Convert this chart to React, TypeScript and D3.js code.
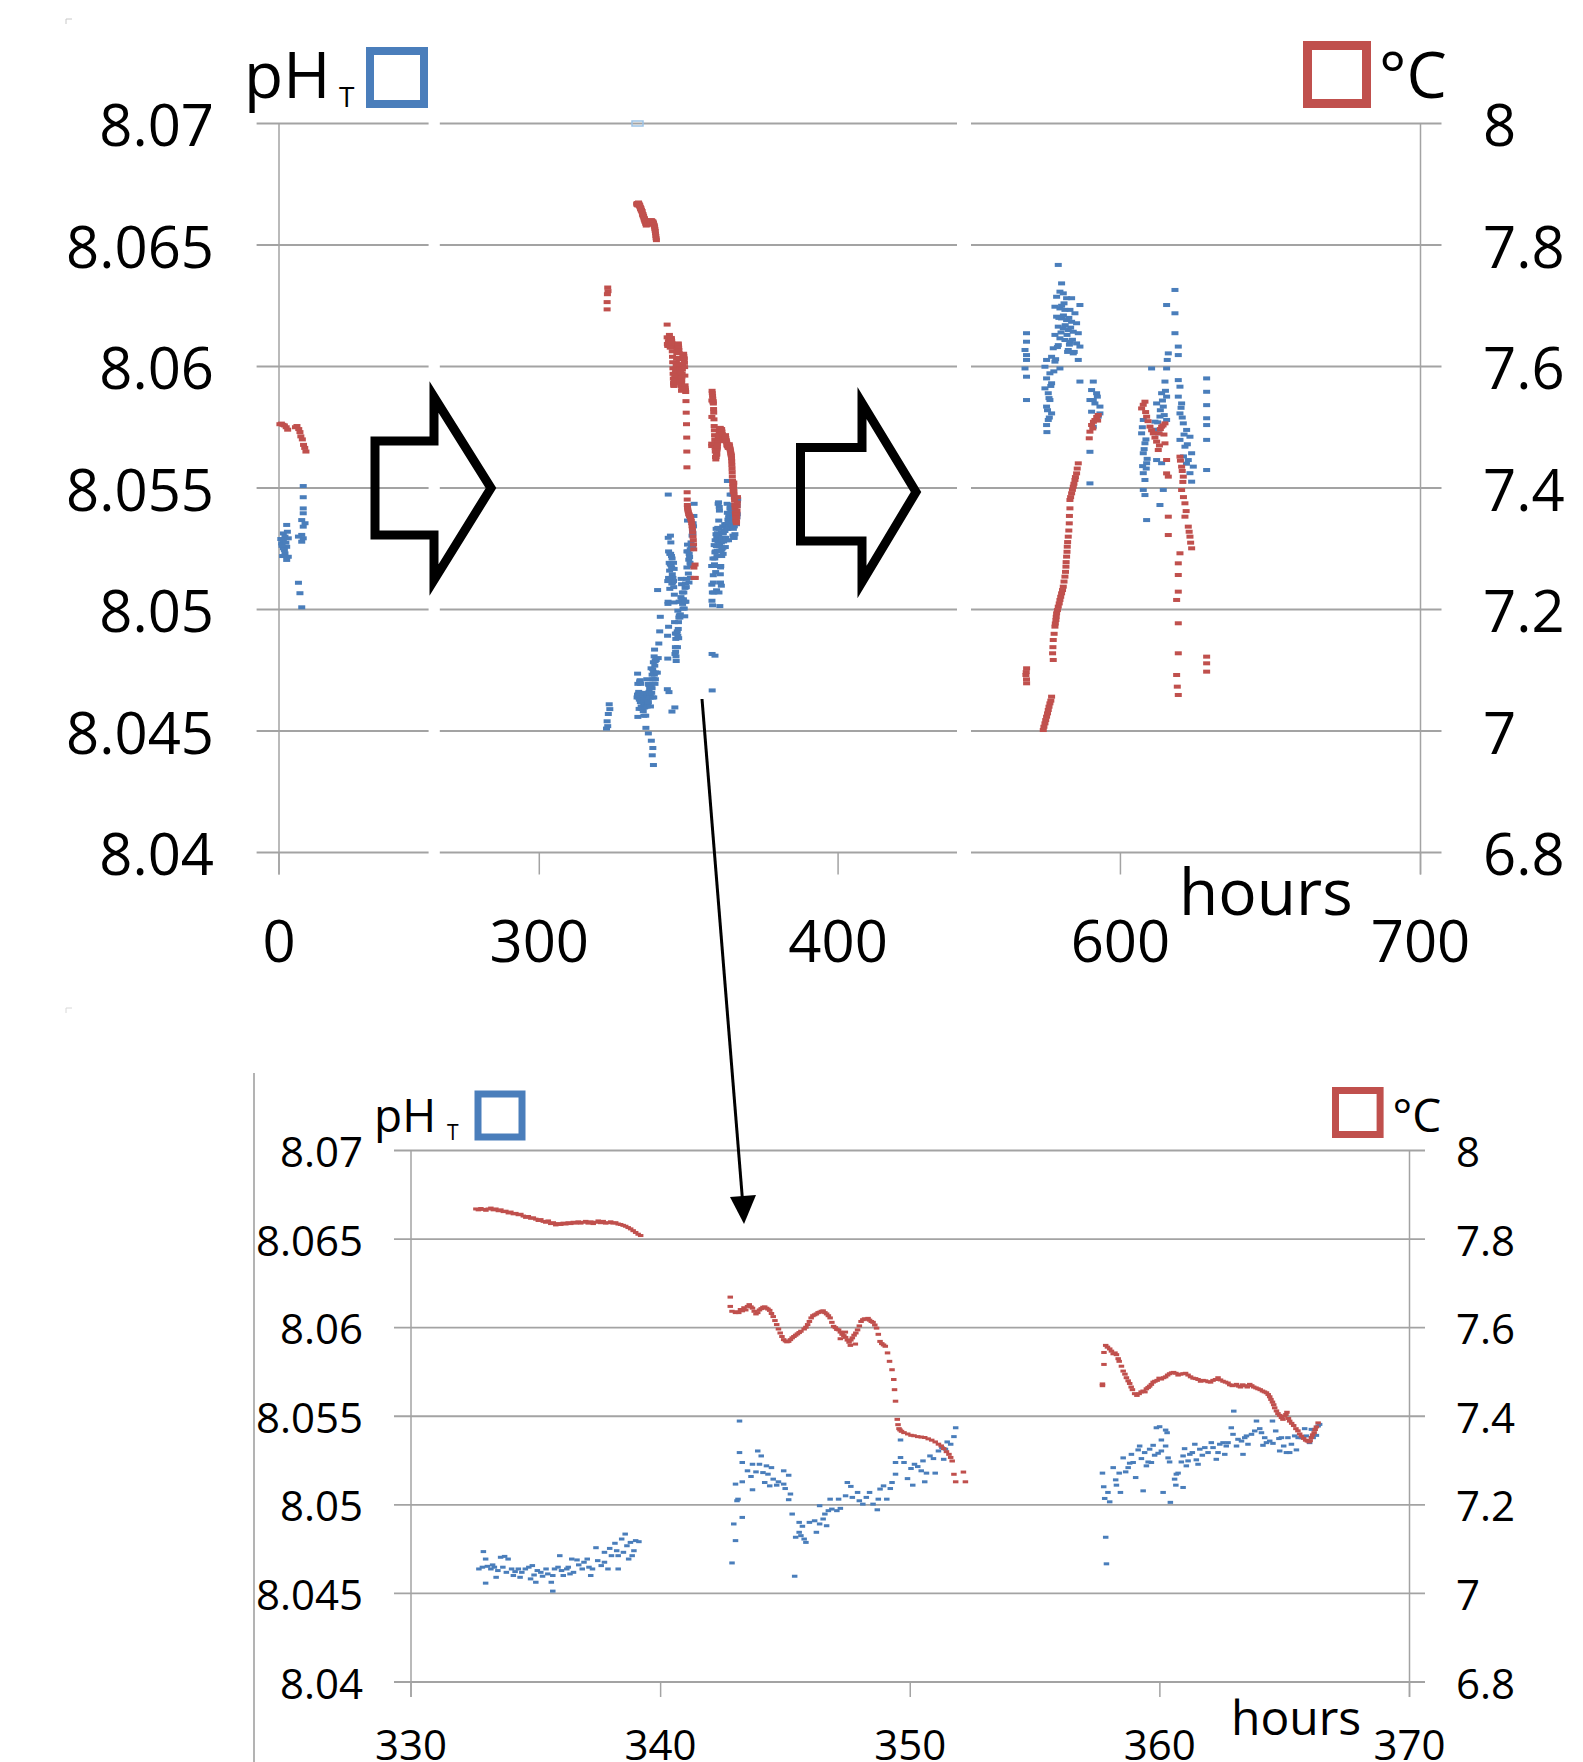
import React from "react";
import * as d3 from "d3";

type Pt = [number, number]; // [hours, value]

// ---- overview, first stretch (0-9 h) ----
const phStart: Pt[] = [
  [8.1, 8.05508], [8.1, 8.05462], [8.1, 8.05416], [8.1, 8.05396], [7.6, 8.05368], [8.7, 8.05355],
  [8.1, 8.05341], [2.57, 8.05348], [1.45, 8.05313], [2.0, 8.053], [3.1, 8.05293], [0.9, 8.05272],
  [2.57, 8.05258], [2.0, 8.05231], [3.1, 8.05217], [2.57, 8.05204], [7.6, 8.05307], [8.1, 8.05293],
  [7.6, 8.05279], [6.5, 8.0511], [7.0, 8.05067], [7.6, 8.05009], [1.45, 8.05286], [1.45, 8.05252],
  [6.5, 8.053], [0.6, 8.0529], [1.0, 8.05262], [1.8, 8.05245], [2.3, 8.05275], [2.8, 8.0532], [1.2, 8.0522],
];
const tempStart: Pt[] = [
  [0.3, 7.505], [0.8, 7.506], [1.3, 7.504], [1.8, 7.503], [2.4, 7.5], [2.9, 7.496], [5.5, 7.5],
  [6.0, 7.502], [6.6, 7.497], [7.0, 7.492], [7.3, 7.485], [7.8, 7.48], [8.2, 7.471], [8.6, 7.466], [9.0, 7.46],
];

// ---- 332-367 h, shown in both panels ----
const phMid: Pt[] = [
  [332.9, 8.04736], [332.99, 8.04694], [332.72, 8.04638], [332.86, 8.04648], [333.06, 8.04653], [333.2, 8.04638],
  [333.34, 8.04648], [333.27, 8.04661], [333.48, 8.04629], [332.99, 8.04558], [333.41, 8.04591], [333.59, 8.04704],
  [333.75, 8.04709], [333.68, 8.04648], [333.89, 8.04694], [333.82, 8.04619], [334.03, 8.04638], [334.1, 8.04601],
  [334.17, 8.04623], [334.3, 8.04638], [334.37, 8.04591], [334.44, 8.04619], [334.58, 8.04638], [334.72, 8.04648],
  [334.86, 8.04657], [334.79, 8.04582], [334.93, 8.04604], [335.0, 8.04563], [335.06, 8.04629], [335.2, 8.04619],
  [335.27, 8.04597], [335.41, 8.04638], [335.48, 8.0461], [335.62, 8.04563], [335.68, 8.04601], [335.75, 8.04638],
  [335.89, 8.04648], [335.96, 8.04713], [336.03, 8.04629], [336.1, 8.04601], [336.24, 8.04638], [336.3, 8.04648],
  [336.37, 8.0461], [336.44, 8.04694], [336.51, 8.04619], [336.65, 8.04689], [336.72, 8.04661], [336.86, 8.04638],
  [336.93, 8.04676], [337.06, 8.04694], [337.13, 8.04648], [337.2, 8.04601], [337.27, 8.04638], [337.41, 8.04758],
  [337.48, 8.04685], [337.62, 8.04657], [337.75, 8.04676], [337.75, 8.04732], [337.89, 8.04638], [337.96, 8.04754],
  [338.03, 8.04713], [338.17, 8.04783], [338.24, 8.04741], [338.3, 8.04713], [338.3, 8.04638], [338.44, 8.04807],
  [338.51, 8.04732], [338.58, 8.04835], [338.65, 8.04769], [338.72, 8.04694], [338.79, 8.04788], [338.86, 8.04713],
  [338.93, 8.04741], [339.0, 8.04798], [339.13, 8.04792], [335.68, 8.04513],
  [343.16, 8.05473], [343.16, 8.05295], [343.89, 8.05304], [344.03, 8.05276], [343.27, 8.05239], [343.68, 8.05229],
  [343.96, 8.05229], [344.24, 8.0522], [344.44, 8.0521], [343.48, 8.05192], [343.82, 8.05186], [344.1, 8.05182],
  [344.3, 8.05173], [344.93, 8.05192], [345.13, 8.05167], [343.62, 8.0516], [344.17, 8.05126], [344.51, 8.05145],
  [344.72, 8.0513], [344.93, 8.05117], [344.37, 8.05107], [344.65, 8.05111], [343.0, 8.05117], [343.27, 8.0513],
  [343.68, 8.05085], [344.99, 8.05092], [345.2, 8.05061], [345.13, 8.05029], [343.1, 8.05032], [343.06, 8.05023],
  [343.27, 8.04929], [342.93, 8.04892], [343.0, 8.04798], [342.86, 8.04672], [345.37, 8.04597], [345.27, 8.04948],
  [345.55, 8.04901], [345.68, 8.04879], [345.55, 8.04845], [345.41, 8.04817], [345.62, 8.04826], [345.75, 8.04807],
  [345.82, 8.04788], [345.96, 8.04901], [346.17, 8.0491], [346.24, 8.04845], [346.37, 8.04892], [346.51, 8.0492],
  [346.58, 8.04948], [346.65, 8.04882], [346.37, 8.04995], [346.72, 8.04967], [346.86, 8.04976], [347.06, 8.04967],
  [347.2, 8.0498], [346.79, 8.05032], [347.13, 8.05032], [347.41, 8.05051], [347.48, 8.05126], [347.62, 8.05104],
  [347.68, 8.05042], [347.89, 8.0507], [347.96, 8.05023], [348.1, 8.05004], [348.24, 8.05042], [348.37, 8.0507],
  [348.51, 8.05004], [348.68, 8.04972], [348.72, 8.05032], [348.79, 8.05089], [348.93, 8.05107], [349.06, 8.05032],
  [349.2, 8.05092], [349.27, 8.05126], [349.41, 8.05173], [349.41, 8.05239], [349.61, 8.05267], [349.75, 8.05239],
  [349.89, 8.05148], [350.03, 8.05205], [350.1, 8.05111], [350.17, 8.05229], [350.3, 8.05216], [350.44, 8.05192],
  [350.51, 8.05248], [350.58, 8.0513], [350.65, 8.05179], [350.79, 8.05276], [350.93, 8.05261], [351.0, 8.05179],
  [351.13, 8.05304], [351.27, 8.05323], [351.34, 8.05257], [351.48, 8.05355], [351.62, 8.05342], [351.75, 8.05385],
  [351.82, 8.05435], [349.61, 8.05366], [351.41, 8.05314],
  [357.83, 8.04817], [357.86, 8.04667], [357.7, 8.05179], [357.75, 8.05102], [357.92, 8.0507], [357.79, 8.05036],
  [357.99, 8.05017], [358.13, 8.0521], [358.26, 8.05111], [358.37, 8.05179], [358.42, 8.0507], [358.23, 8.05141],
  [358.53, 8.05265], [358.63, 8.05186], [358.73, 8.0521], [358.79, 8.05235], [358.93, 8.05239], [359.03, 8.05154],
  [358.86, 8.05285], [359.13, 8.0531], [359.19, 8.05332], [359.26, 8.05261], [359.33, 8.05079], [359.39, 8.05295],
  [359.46, 8.0522], [359.53, 8.05242], [359.59, 8.05314], [359.66, 8.05239], [359.73, 8.05336], [359.79, 8.0528],
  [359.86, 8.05435], [359.93, 8.05291], [359.99, 8.05441], [360.06, 8.05366], [360.06, 8.05304], [360.13, 8.0507],
  [360.23, 8.05422], [360.29, 8.05407], [360.23, 8.05332], [360.33, 8.05265], [360.39, 8.05242], [360.42, 8.05014],
  [360.59, 8.05145], [360.66, 8.05173], [360.73, 8.05179], [360.64, 8.05111], [360.93, 8.05098], [360.86, 8.05242],
  [360.93, 8.05276], [360.99, 8.05317], [361.06, 8.0522], [361.13, 8.05248], [361.2, 8.05285], [361.3, 8.05295],
  [361.4, 8.05342], [361.46, 8.05254], [361.53, 8.05229], [361.6, 8.05314], [361.7, 8.0528], [361.8, 8.05323],
  [361.93, 8.05295], [362.06, 8.05351], [362.13, 8.05323], [362.26, 8.05257], [362.33, 8.05295], [362.4, 8.05342],
  [362.53, 8.05351], [362.6, 8.05285], [362.66, 8.05332], [362.73, 8.05351], [362.86, 8.05435], [362.93, 8.05398],
  [362.96, 8.05529], [363.07, 8.05332], [363.13, 8.0537], [363.27, 8.0536], [363.33, 8.05285], [363.4, 8.05379],
  [363.47, 8.05389], [363.53, 8.05342], [363.67, 8.05398], [363.8, 8.05417], [363.87, 8.05473], [364.0, 8.0543],
  [364.07, 8.05407], [364.13, 8.05336], [364.2, 8.05379], [364.27, 8.05351], [364.4, 8.0536], [364.51, 8.05473],
  [364.53, 8.05347], [364.64, 8.05417], [364.77, 8.05374], [364.8, 8.05304], [364.87, 8.05379], [364.96, 8.05332],
  [365.07, 8.05295], [365.13, 8.05379], [365.2, 8.05295], [365.27, 8.05342], [365.4, 8.05389], [365.47, 8.0531],
  [365.54, 8.05379], [365.67, 8.05379], [365.8, 8.0543], [365.87, 8.05389], [366.0, 8.05351], [366.07, 8.05426],
  [366.14, 8.05379], [366.27, 8.05392], [366.34, 8.05445], [366.2, 8.05426], [366.4, 8.05454],
];
const tempMid: Pt[] = [
  [332.6, 7.868], [332.7, 7.866], [332.8, 7.869], [332.9, 7.867], [333.0, 7.865], [333.1, 7.868], [333.2, 7.87],
  [333.3, 7.866], [333.4, 7.868], [333.5, 7.864], [333.6, 7.866], [333.7, 7.862], [333.8, 7.863], [333.9, 7.859],
  [334.0, 7.861], [334.1, 7.857], [334.2, 7.858], [334.3, 7.855], [334.4, 7.856], [334.5, 7.852], [334.6, 7.849],
  [334.7, 7.851], [334.8, 7.847], [334.9, 7.848], [335.0, 7.845], [335.1, 7.842], [335.2, 7.844], [335.3, 7.84],
  [335.4, 7.838], [335.5, 7.841], [335.6, 7.835], [335.7, 7.837], [335.8, 7.832], [335.9, 7.835], [336.0, 7.833],
  [336.1, 7.836], [336.2, 7.834], [336.3, 7.837], [336.4, 7.835], [336.5, 7.838], [336.6, 7.836], [336.7, 7.839],
  [336.8, 7.836], [336.9, 7.838], [337.0, 7.84], [337.1, 7.836], [337.2, 7.839], [337.3, 7.835], [337.4, 7.838],
  [337.5, 7.841], [337.6, 7.837], [337.7, 7.84], [337.8, 7.836], [337.9, 7.837], [338.0, 7.839], [338.1, 7.836],
  [338.2, 7.837], [338.3, 7.834], [338.4, 7.833], [338.5, 7.831], [338.6, 7.829], [338.7, 7.826], [338.8, 7.823],
  [338.9, 7.819], [339.0, 7.815], [339.1, 7.811], [339.2, 7.808],
  [342.79, 7.669], [342.79, 7.648], [342.86, 7.637], [343.0, 7.634], [343.06, 7.636], [343.13, 7.634], [343.2, 7.641],
  [343.27, 7.638], [343.34, 7.645], [343.41, 7.64], [343.48, 7.648], [343.55, 7.652], [343.62, 7.647], [343.68, 7.644],
  [343.75, 7.637], [343.82, 7.631], [343.89, 7.634], [343.96, 7.64], [344.03, 7.643], [344.1, 7.646], [344.17, 7.647],
  [344.24, 7.644], [344.3, 7.642], [344.37, 7.639], [344.44, 7.632], [344.51, 7.625], [344.58, 7.616], [344.65, 7.607],
  [344.72, 7.597], [344.79, 7.588], [344.86, 7.58], [344.93, 7.573], [345.0, 7.57], [345.06, 7.568], [345.13, 7.569],
  [345.2, 7.573], [345.27, 7.577], [345.34, 7.58], [345.41, 7.583], [345.48, 7.586], [345.55, 7.589], [345.62, 7.592],
  [345.75, 7.597], [345.82, 7.601], [345.89, 7.607], [345.96, 7.614], [346.03, 7.622], [346.1, 7.627], [346.17, 7.629],
  [346.24, 7.631], [346.31, 7.634], [346.37, 7.635], [346.44, 7.637], [346.51, 7.638], [346.58, 7.634], [346.65, 7.631],
  [346.72, 7.627], [346.79, 7.622], [346.86, 7.612], [346.93, 7.603], [347.0, 7.6], [347.06, 7.596], [347.13, 7.595],
  [347.2, 7.59], [347.27, 7.585], [347.34, 7.582], [347.41, 7.578], [347.48, 7.572], [347.55, 7.567], [347.62, 7.572],
  [347.68, 7.577], [347.75, 7.583], [347.82, 7.588], [347.89, 7.595], [347.96, 7.604], [348.03, 7.614], [348.1, 7.618],
  [348.17, 7.62], [348.24, 7.619], [348.31, 7.621], [348.37, 7.617], [348.44, 7.614], [348.51, 7.612], [348.58, 7.606],
  [348.65, 7.599], [348.72, 7.585], [348.79, 7.569], [348.86, 7.564], [348.93, 7.561], [349.0, 7.558], [349.09, 7.543],
  [347.2, 7.575], [347.4, 7.59], [347.6, 7.56], [347.8, 7.563],
  [349.17, 7.524], [349.27, 7.505], [349.34, 7.483], [349.37, 7.46], [349.41, 7.434], [349.48, 7.393], [349.51, 7.381],
  [349.55, 7.372], [349.59, 7.369], [349.65, 7.366], [349.75, 7.363], [349.9, 7.36], [350.03, 7.357], [350.15, 7.356],
  [350.3, 7.354], [350.44, 7.353], [350.58, 7.352], [350.72, 7.349], [350.86, 7.346], [351.0, 7.342], [351.13, 7.337],
  [351.24, 7.333], [351.34, 7.327], [351.45, 7.32], [351.55, 7.314], [351.62, 7.307], [351.68, 7.299], [351.75, 7.269],
  [352.13, 7.274], [351.82, 7.252], [352.21, 7.252],
  [357.7, 7.469], [357.7, 7.473], [357.76, 7.517], [357.76, 7.544], [357.83, 7.56], [357.9, 7.556], [357.99, 7.552],
  [358.06, 7.547], [358.13, 7.541], [358.2, 7.543], [358.26, 7.539], [358.33, 7.53], [358.37, 7.524], [358.46, 7.513],
  [358.53, 7.502], [358.6, 7.495], [358.66, 7.487], [358.73, 7.48], [358.79, 7.474], [358.85, 7.466], [358.9, 7.46],
  [358.99, 7.451], [359.08, 7.447], [359.17, 7.451], [359.25, 7.455], [359.33, 7.457], [359.4, 7.455], [359.46, 7.462],
  [359.53, 7.465], [359.59, 7.468], [359.66, 7.472], [359.73, 7.477], [359.8, 7.479], [359.89, 7.481], [359.97, 7.486],
  [360.06, 7.484], [360.15, 7.487], [360.23, 7.489], [360.31, 7.493], [360.39, 7.496], [360.47, 7.498], [360.55, 7.499],
  [360.64, 7.497], [360.73, 7.493], [360.83, 7.495], [360.93, 7.496], [361.03, 7.497], [361.13, 7.493], [361.23, 7.489],
  [361.33, 7.486], [361.43, 7.485], [361.53, 7.483], [361.63, 7.479], [361.73, 7.481], [361.83, 7.48], [361.93, 7.478],
  [362.03, 7.477], [362.13, 7.481], [362.23, 7.483], [362.33, 7.487], [362.43, 7.482], [362.53, 7.479], [362.63, 7.477],
  [362.73, 7.475], [362.8, 7.471], [362.9, 7.469], [362.98, 7.47], [363.07, 7.472], [363.15, 7.468], [363.23, 7.466],
  [363.32, 7.471], [363.4, 7.469], [363.5, 7.466], [363.6, 7.472], [363.68, 7.469], [363.76, 7.466], [363.85, 7.464],
  [363.93, 7.462], [364.02, 7.46], [364.11, 7.457], [364.19, 7.455], [364.27, 7.453], [364.34, 7.449], [364.4, 7.444],
  [364.45, 7.438], [364.51, 7.432], [364.56, 7.426], [364.6, 7.419], [364.67, 7.412], [364.73, 7.406], [364.8, 7.402],
  [364.87, 7.397], [364.93, 7.393], [365.0, 7.4], [365.05, 7.404], [365.09, 7.409], [365.15, 7.395], [365.2, 7.389],
  [365.28, 7.384], [365.36, 7.379], [365.45, 7.372], [365.53, 7.367], [365.6, 7.36], [365.67, 7.355], [365.76, 7.35],
  [365.84, 7.346], [365.91, 7.344], [365.98, 7.342], [366.02, 7.345], [366.07, 7.352], [366.12, 7.358], [366.18, 7.363],
  [366.22, 7.37], [366.27, 7.376], [366.34, 7.385],
];

// points of the overview only (outside the 330-370 h window or dropped in the detail)
const phMidOverview: Pt[] = [
  [322.5, 8.0451], [322.7, 8.0454], [322.9, 8.0452], [323.1, 8.0457], [323.4, 8.0461], [323.6, 8.0459],
  [336.5, 8.0449], [337.5, 8.0446], [338.0, 8.0443], [337.8, 8.044], [338.2, 8.0436],
  [339.5, 8.0474], [339.8, 8.048], [340.0, 8.0486], [340.3, 8.0491], [340.5, 8.0497], [339.6, 8.0508],
  [343.4, 8.0466], [344.4, 8.0458], [358.8, 8.0481],
];
const tempMidOverview: Pt[] = [
  [322.9, 7.73], [323.0, 7.724], [322.8, 7.719], [322.7, 7.706], [322.7, 7.694],
];

// ---- overview, last stretch (567-629 h) ----
const phEnd: Pt[] = [
  [568.7, 8.06137], [568.7, 8.06102], [568.2, 8.06068], [568.7, 8.06047], [568.7, 8.06027], [568.2, 8.05992],
  [568.7, 8.05958], [568.7, 8.05862],
  [579.28, 8.06418], [580.39, 8.06342], [579.84, 8.06308], [580.95, 8.06301], [578.73, 8.06287], [582.06, 8.06281],
  [583.73, 8.06281], [586.5, 8.06253], [578.17, 8.06246], [579.84, 8.06239], [581.5, 8.06233], [583.17, 8.06233],
  [584.84, 8.06219], [578.73, 8.06205], [580.39, 8.06198], [582.06, 8.06191], [583.73, 8.06184], [585.39, 8.06178],
  [579.28, 8.06164], [580.95, 8.06157], [582.61, 8.0615], [584.28, 8.06143], [585.95, 8.06137], [578.17, 8.0613],
  [579.84, 8.06116], [581.5, 8.06109], [583.17, 8.06102], [585.39, 8.06095], [586.5, 8.06082], [579.28, 8.06088],
  [577.61, 8.06075], [582.61, 8.06068], [584.28, 8.06054], [585.95, 8.06027], [577.06, 8.0604], [575.39, 8.06027],
  [578.17, 8.0602], [579.84, 8.05992], [574.84, 8.05999], [576.5, 8.05972], [575.39, 8.05951], [577.06, 8.05931],
  [574.84, 8.0591], [575.95, 8.0589], [576.5, 8.05862], [575.39, 8.05835], [577.06, 8.05807], [575.95, 8.0578],
  [575.39, 8.05759], [586.5, 8.05938],
  [580.4, 8.0625], [581.0, 8.0621], [581.6, 8.0617], [582.2, 8.0613], [582.8, 8.062], [583.4, 8.0616], [580.2, 8.0614],
  [579.5, 8.062], [581.2, 8.0626], [582.4, 8.0606], [583.0, 8.0609], [584.0, 8.0611], [584.6, 8.0606], [579.0, 8.0608],
  [578.4, 8.0603], [577.8, 8.0598], [576.8, 8.0592], [576.2, 8.0587], [575.7, 8.0582], [576.3, 8.0579], [575.5, 8.0573],
  [590.95, 8.05938], [590.39, 8.05903], [592.06, 8.0589], [589.84, 8.05862], [591.5, 8.05848], [593.17, 8.05835],
  [590.39, 8.05814], [592.61, 8.05794], [590.95, 8.05752], [589.84, 8.05649], [589.84, 8.05519], [592.3, 8.05876],
  [590.95, 8.05862], [593.17, 8.05807],
  [618.17, 8.06315], [615.39, 8.06253], [618.17, 8.06219], [618.17, 8.06137], [619.28, 8.06082], [619.28, 8.06047],
  [615.95, 8.06054], [615.6, 8.06027], [615.39, 8.05992], [610.39, 8.05992],
  [607.61, 8.0578], [607.06, 8.05725], [608.17, 8.05684], [607.61, 8.05643], [608.73, 8.05602], [607.61, 8.05561],
  [608.17, 8.05533], [607.61, 8.05492], [608.17, 8.05471], [608.73, 8.05368], [607.3, 8.0575], [608.5, 8.057],
  [607.9, 8.0566], [608.9, 8.0562], [607.4, 8.0559], [608.6, 8.0558],
  [614.84, 8.05938], [613.73, 8.0589], [615.39, 8.05876], [612.06, 8.05848], [614.28, 8.05835], [613.17, 8.05794],
  [611.5, 8.05773], [615.39, 8.0578], [612.61, 8.05725], [612.06, 8.05615], [613.73, 8.05602], [614.28, 8.05492],
  [613.17, 8.0543], [614.0, 8.0586], [615.0, 8.059], [613.3, 8.0582], [614.6, 8.058], [612.4, 8.0577], [611.8, 8.0574],
  [619.28, 8.05944], [619.84, 8.05917], [619.28, 8.05876], [620.39, 8.05848], [619.84, 8.05807], [620.95, 8.05766],
  [622.06, 8.05739], [623.17, 8.05711], [619.84, 8.05698], [621.5, 8.0567], [623.73, 8.05643], [622.61, 8.05615],
  [624.28, 8.05588], [623.17, 8.05561], [623.73, 8.05526], [620.6, 8.0579], [621.2, 8.0572], [622.3, 8.0568],
  [621.0, 8.0563], [622.0, 8.056], [620.2, 8.0583],
  [628.73, 8.05951], [628.73, 8.05896], [628.73, 8.05841], [628.73, 8.05787], [628.73, 8.05759], [628.73, 8.05698],
  [628.73, 8.05574],
];
const tempEnd: Pt[] = [
  [592.61, 7.5202], [591.5, 7.512], [590.39, 7.5037], [589.84, 7.4927], [589.61, 7.4818], [592.1, 7.517],
  [591.0, 7.509], [590.8, 7.498], [592.4, 7.511],
  [585.95, 7.4406], [585.39, 7.4241], [584.84, 7.4132], [584.28, 7.4022], [583.73, 7.3912], [583.17, 7.3803],
  [583.17, 7.3665], [582.95, 7.3418], [582.61, 7.3199], [582.28, 7.3034], [582.06, 7.287], [581.84, 7.2705],
  [581.5, 7.2541], [580.95, 7.2376], [580.39, 7.2266], [579.84, 7.2157], [579.28, 7.2047], [578.73, 7.1937],
  [578.5, 7.1827], [578.17, 7.1718], [577.61, 7.1498], [577.39, 7.1279], [577.61, 7.1169], [577.06, 7.0565],
  [576.5, 7.0455], [575.95, 7.0346], [575.39, 7.0236], [574.84, 7.0126], [574.28, 7.0016], [568.73, 7.1032],
  [568.5, 7.0922], [568.73, 7.0785],
  [585.6, 7.432], [585.0, 7.418], [584.5, 7.407], [584.0, 7.397], [583.4, 7.385], [583.0, 7.354], [582.8, 7.33],
  [582.4, 7.311], [582.2, 7.295], [581.9, 7.278], [581.7, 7.262], [581.2, 7.246], [580.7, 7.232], [580.1, 7.221],
  [579.6, 7.21], [579.0, 7.199], [578.6, 7.188], [578.3, 7.177], [577.9, 7.16], [577.5, 7.138], [576.8, 7.05],
  [576.2, 7.04], [575.7, 7.029], [575.1, 7.018], [574.5, 7.007], [568.6, 7.097], [568.7, 7.085],
  [608.17, 7.5421], [607.06, 7.531], [608.73, 7.5174], [609.84, 7.501], [610.95, 7.49], [612.06, 7.4763],
  [613.73, 7.501], [614.84, 7.5064], [612.61, 7.4625], [614.84, 7.4735], [615.39, 7.4461], [615.39, 7.4241],
  [615.95, 7.4187], [607.6, 7.537], [608.4, 7.525], [609.2, 7.51], [610.4, 7.495], [611.5, 7.483], [612.9, 7.49],
  [613.3, 7.497], [614.2, 7.503], [614.5, 7.488], [613.0, 7.47],
  [619.84, 7.4516], [620.39, 7.4351], [620.95, 7.4187], [620.39, 7.3967], [621.5, 7.3748], [621.5, 7.3528],
  [622.61, 7.3364], [623.17, 7.3199], [623.73, 7.3007], [620.0, 7.445], [620.6, 7.428], [620.8, 7.41], [621.0, 7.385],
  [621.9, 7.362], [622.9, 7.328], [623.4, 7.31],
  [615.95, 7.3528], [615.95, 7.3226], [619.84, 7.2925], [619.28, 7.276], [619.28, 7.2568], [619.28, 7.2294],
  [618.73, 7.2157], [619.28, 7.1773], [619.28, 7.1279], [618.73, 7.0922], [618.95, 7.073], [619.28, 7.0593],
  [628.73, 7.1224], [628.73, 7.1114], [628.73, 7.0977],
];

// ---- axes ----
const phTicks = [8.04, 8.045, 8.05, 8.055, 8.06, 8.065, 8.07];
const tempTicks = [6.8, 7, 7.2, 7.4, 7.6, 7.8, 8];
const overviewHourTicks = [0, 300, 400, 600, 700];
const detailHourTicks = [330, 340, 350, 360, 370];

const BLUE = "#4a7ebb";
const RED = "#c0504d";
const GRID = "#a3a3a3";
const FONT = "'Open Sans', 'Noto Sans', sans-serif";

function Dots({ data, x, y, w, h, color }: any) {
  return (
    <g fill={color}>
      {data.map((d: Pt, i: number) => (
        <rect key={i} x={x(d[0]) - w / 2} y={y(d[1]) - h / 2} width={w} height={h} />
      ))}
    </g>
  );
}

export default function App() {
  // overview: broken hour axis, three pieces
  const topX = d3
    .scaleLinear()
    .domain([0, 50, 266.7, 439.8, 550.2, 700])
    .range([279, 428.6, 439.8, 957, 971, 1420.5]);
  const topPh = d3.scaleLinear().domain([8.04, 8.07]).range([852.5, 123.5]);
  const topTemp = d3.scaleLinear().domain([6.8, 8]).range([852.5, 123.5]);
  const gridPieces = [[256.6, 428.6], [439.8, 957], [971, 1441.5]];

  // detail panel
  const botX = d3.scaleLinear().domain([330, 370]).range([411, 1409.5]);
  const botPh = d3.scaleLinear().domain([8.04, 8.07]).range([1682, 1150.5]);
  const botTemp = d3.scaleLinear().domain([6.8, 8]).range([1682, 1150.5]);
  const inWindow = (d: Pt) => d[0] >= 330 && d[0] <= 370;

  const topPhAll = [...phStart, ...phMid, ...phMidOverview, ...phEnd];
  const topTempAll = [...tempStart, ...tempMid, ...tempMidOverview, ...tempEnd];

  return (
    <svg
      width={1583}
      height={1762}
      style={{ position: "absolute", left: 0, top: 0, background: "#fff" }}
      fontFamily={FONT}
    >
      <rect width={1583} height={1762} fill="#fff" />
      {/* little frame corners */}
      <path d="M66 24 V19 H72" fill="none" stroke="#c8c8c8" strokeWidth={1} />
      <path d="M66 1013 V1008 H72" fill="none" stroke="#d8d8d8" strokeWidth={1} />

      {/* ===== overview ===== */}
      {phTicks.map((t) => (
        <g key={"tg" + t}>
          {gridPieces.map((p, i) => (
            <line key={i} x1={p[0]} x2={p[1]} y1={topPh(t)} y2={topPh(t)} stroke={GRID} strokeWidth={2} />
          ))}
        </g>
      ))}
      <line x1={topX(0)} x2={topX(0)} y1={123.5} y2={874.5} stroke={GRID} strokeWidth={1.5} />
      <line x1={topX(700)} x2={topX(700)} y1={123.5} y2={874.5} stroke={GRID} strokeWidth={1.5} />
      {overviewHourTicks.map((t) => (
        <g key={"tx" + t}>
          <line x1={topX(t)} x2={topX(t)} y1={852.5} y2={874.5} stroke={GRID} strokeWidth={1.5} />
          <text x={topX(t)} y={939} fontSize={58} textAnchor="middle" dominantBaseline="central">
            {t}
          </text>
        </g>
      ))}
      {phTicks.map((t) => (
        <text key={"tl" + t} x={214} y={topPh(t)} fontSize={58} textAnchor="end" dominantBaseline="central">
          {String(t)}
        </text>
      ))}
      {tempTicks.map((t) => (
        <text key={"tr" + t} x={1483} y={topTemp(t)} fontSize={58} dominantBaseline="central">
          {String(t)}
        </text>
      ))}
      <text x={1179} y={915} fontSize={64}>hours</text>
      <text x={244} y={98} fontSize={64}>pH</text>
      <text x={339} y={107} fontSize={28}>T</text>
      <rect x={370} y={51} width={54} height={53} fill="none" stroke={BLUE} strokeWidth={8} />
      <rect x={1307.5} y={45.5} width={59} height={58} fill="none" stroke={RED} strokeWidth={9} />
      <text x={1379} y={98} fontSize={64}>°C</text>
      <rect x={632} y={121} width={11} height={5} fill="none" stroke="#9dc3e6" strokeWidth={1.5} />

      <Dots data={topPhAll} x={topX} y={topPh} w={7} h={4} color={BLUE} />
      <Dots data={topTempAll} x={topX} y={topTemp} w={7} h={4} color={RED} />

      {/* block arrows */}
      <polygon
        points="375,441 434,441 434,397 491,488 434,580 434,535 375,535"
        fill="none"
        stroke="#000"
        strokeWidth={9}
      />
      <polygon
        points="800.5,447.5 862,447.5 862,403 916,492 862,582 862,541 800.5,541"
        fill="none"
        stroke="#000"
        strokeWidth={9}
      />

      {/* ===== detail ===== */}
      <line x1={254} x2={254} y1={1073} y2={1762} stroke="#9a9a9a" strokeWidth={1.5} />
      {phTicks.map((t) => (
        <line key={"bg" + t} x1={394} x2={1425} y1={botPh(t)} y2={botPh(t)} stroke={GRID} strokeWidth={1.8} />
      ))}
      <line x1={botX(330)} x2={botX(330)} y1={1150.5} y2={1697} stroke={GRID} strokeWidth={1.5} />
      <line x1={botX(370)} x2={botX(370)} y1={1150.5} y2={1697} stroke={GRID} strokeWidth={1.5} />
      {detailHourTicks.map((t) => (
        <g key={"bx" + t}>
          <line x1={botX(t)} x2={botX(t)} y1={1682} y2={1697} stroke={GRID} strokeWidth={1.5} />
          <text x={botX(t)} y={1743} fontSize={42} textAnchor="middle" dominantBaseline="central">
            {t}
          </text>
        </g>
      ))}
      {phTicks.map((t) => (
        <text key={"bl" + t} x={363} y={botPh(t)} fontSize={42} textAnchor="end" dominantBaseline="central">
          {String(t)}
        </text>
      ))}
      {tempTicks.map((t) => (
        <text key={"br" + t} x={1456} y={botTemp(t)} fontSize={42} dominantBaseline="central">
          {String(t)}
        </text>
      ))}
      <text x={1231} y={1735} fontSize={48}>hours</text>
      <text x={374} y={1132} fontSize={46}>pH</text>
      <text x={447} y={1140} fontSize={21}>T</text>
      <rect x={478} y={1094} width={44} height={43} fill="none" stroke={BLUE} strokeWidth={7} />
      <rect x={1335.5} y={1090.5} width={44.6} height={44} fill="none" stroke={RED} strokeWidth={7} />
      <text x={1392.5} y={1132} fontSize={46}>°C</text>

      <Dots data={phMid.filter(inWindow)} x={botX} y={botPh} w={5.5} h={3} color={BLUE} />
      <Dots data={tempMid.filter(inWindow)} x={botX} y={botTemp} w={5.5} h={3} color={RED} />

      {/* pointer from overview to detail */}
      <line x1={702} y1={699} x2={742.5} y2={1200} stroke="#000" strokeWidth={3} />
      <polygon points="744,1224 730,1197 756,1195" fill="#000" />
    </svg>
  );
}
